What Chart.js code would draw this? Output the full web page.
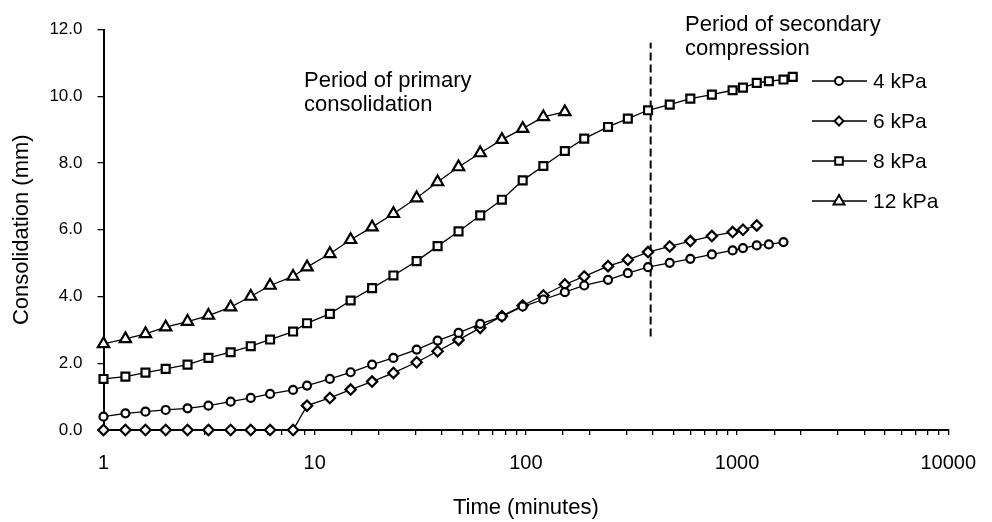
<!DOCTYPE html>
<html lang="en">
<head>
<meta charset="UTF-8">
<title>Consolidation vs time</title>
<style>
  body { margin: 0; background: #fff; }
  #wrap { width: 992px; height: 522px; }
</style>
</head>
<body>
<div id="wrap"><canvas id="myChart" width="992" height="522"></canvas></div>
<script src="https://cdn.jsdelivr.net/npm/chart.js"></script>
<script>
// time readings (minutes), shared by all load steps
var times = [1, 1.27, 1.58, 1.97, 2.5, 3.14, 4.0, 4.98, 6.15, 7.9, 9.2, 11.8, 14.8, 18.7, 23.6, 30.4,
             38.2, 48, 60.8, 77, 96.6, 121, 153, 189, 245, 304, 379, 480, 601, 760, 953, 1067,
             1240, 1415, 1660, 1836];

var kpa4  = [0.4, 0.5, 0.55, 0.6, 0.65, 0.73, 0.85, 0.96, 1.08, 1.2, 1.33, 1.53, 1.73, 1.96, 2.16, 2.41,
             2.68, 2.91, 3.18, 3.4, 3.7, 3.91, 4.13, 4.33, 4.5, 4.7, 4.88, 5.01, 5.13, 5.26, 5.38, 5.45,
             5.53, 5.56, 5.63];
var kpa6  = [0, 0, 0, 0, 0, 0, 0, 0, 0, 0, 0.73, 0.96, 1.21, 1.45, 1.71, 2.03,
             2.36, 2.7, 3.06, 3.41, 3.73, 4.03, 4.36, 4.6, 4.91, 5.1, 5.33, 5.5, 5.66, 5.81, 5.93, 6.0,
             6.13];
var kpa8  = [1.53, 1.6, 1.72, 1.83, 1.96, 2.16, 2.33, 2.51, 2.71, 2.95, 3.2, 3.48, 3.88, 4.25, 4.63, 5.06,
             5.51, 5.95, 6.43, 6.9, 7.48, 7.91, 8.36, 8.73, 9.08, 9.33, 9.58, 9.75, 9.93, 10.05, 10.18, 10.26,
             10.4, 10.45, 10.5, 10.58];
var kpa12 = [2.58, 2.73, 2.88, 3.08, 3.25, 3.43, 3.68, 4.0, 4.33, 4.6, 4.88, 5.28, 5.7, 6.08, 6.48, 6.95,
             7.43, 7.88, 8.3, 8.7, 9.03, 9.38, 9.53];

// end of primary consolidation (dashed line)
var splitTime = 390;
var splitFrom = 2.8;
var splitTo = 11.6;

var xTickLabels = [1, 10, 100, 1000, 10000];
var yTicks = [0, 2, 4, 6, 8, 10, 12];

function pts(vals) {
    return vals.map(function (v, i) { return { x: times[i], y: v }; });
}

function serie(label, vals, style, radius) {
    return {
        label: label,
        data: pts(vals),
        borderColor: '#000',
        borderWidth: 1.3,
        backgroundColor: '#fff',
        pointStyle: style,
        pointRadius: radius,
        pointBorderWidth: 2.2,
        pointBackgroundColor: '#fff',
        pointBorderColor: '#000',
        tension: 0,
        clip: false
    };
}

var FONT = "'Liberation Sans', Arial, sans-serif";

// legend drawn inside the plot like the original
var legendBox = {
    id: 'legendBox',
    afterDatasetsDraw: function (chart) {
        var ctx = chart.ctx;
        ctx.save();
        ctx.fillStyle = '#fff';
        ctx.fillRect(803, 62, 150, 156);
        var sets = chart.data.datasets.filter(function (d) { return d.pointStyle; });
        sets.forEach(function (d, i) {
            var y = 81 + i * 40;
            ctx.strokeStyle = '#000';
            ctx.lineWidth = 1.5;
            ctx.beginPath();
            ctx.moveTo(812, y);
            ctx.lineTo(867, y);
            ctx.stroke();
            ctx.fillStyle = '#fff';
            ctx.lineWidth = 2;
            ctx.beginPath();
            var cx = 839, r = 4.5;
            if (d.pointStyle === 'circle') {
                ctx.arc(cx, y, 4, 0, Math.PI * 2);
            } else if (d.pointStyle === 'rectRot') {
                ctx.moveTo(cx, y - r); ctx.lineTo(cx + r, y); ctx.lineTo(cx, y + r); ctx.lineTo(cx - r, y);
                ctx.closePath();
            } else if (d.pointStyle === 'rect') {
                ctx.rect(cx - 3.8, y - 3.8, 7.6, 7.6);
            } else {
                ctx.moveTo(cx, y - 6); ctx.lineTo(cx + 5.5, y + 3.5); ctx.lineTo(cx - 5.5, y + 3.5);
                ctx.closePath();
            }
            ctx.fill();
            ctx.stroke();
            ctx.fillStyle = '#000';
            ctx.font = '21px ' + FONT;
            ctx.textBaseline = 'middle';
            ctx.fillText(d.label, 873, y + 1);
        });
        ctx.restore();
    }
};

var notes = {
    id: 'notes',
    afterDraw: function (chart) {
        var ctx = chart.ctx;
        ctx.save();
        ctx.fillStyle = '#000';
        ctx.font = '22px ' + FONT;
        ctx.textBaseline = 'alphabetic';
        ctx.fillText('Period of primary', 304, 87);
        ctx.fillText('consolidation', 304, 111);
        ctx.fillText('Period of secondary', 685, 31);
        ctx.fillText('compression', 685, 55);
        ctx.restore();
    }
};

var ctx = document.getElementById('myChart');
var myChart = new Chart(ctx, {
    type: 'line',
    data: {
        datasets: [
            serie('4 kPa', kpa4, 'circle', 4),
            serie('6 kPa', kpa6, 'rectRot', 5.2),
            serie('8 kPa', kpa8, 'rect', 5.6),
            serie('12 kPa', kpa12, 'triangle', 6.5),
            {
                label: 'split',
                data: [{ x: splitTime, y: splitFrom }, { x: splitTime, y: splitTo }],
                borderColor: '#000',
                borderWidth: 2,
                borderDash: [8, 4],
                pointRadius: 0,
                clip: false
            }
        ]
    },
    options: {
        responsive: false,
        animation: false,
        layout: { padding: { top: 29.5, right: 35, left: 0, bottom: 0 } },
        plugins: {
            legend: { display: false },
            tooltip: { enabled: false }
        },
        scales: {
            x: {
                type: 'logarithmic',
                min: 1,
                max: 10000,
                afterFit: function (s) { s.height = 92; },
                border: { display: true, color: '#000', width: 2 },
                grid: { drawOnChartArea: false, drawTicks: true, tickLength: 5, color: '#000', lineWidth: 1.3 },
                ticks: {
                    autoSkip: false,
                    maxRotation: 0,
                    color: '#000',
                    padding: 16,
                    font: { family: FONT, size: 20 },
                    callback: function (v) { return xTickLabels.indexOf(v) >= 0 ? String(v) : ''; }
                },
                title: {
                    display: true,
                    text: 'Time (minutes)',
                    color: '#000',
                    font: { family: FONT, size: 22 },
                    padding: { top: 0, bottom: 1 }
                }
            },
            y: {
                min: 0,
                max: 12,
                afterFit: function (s) { s.width = 103.5; },
                afterBuildTicks: function (s) { s.ticks = yTicks.map(function (v) { return { value: v }; }); },
                border: { display: true, color: '#000', width: 2 },
                grid: { drawOnChartArea: false, drawTicks: true, tickLength: 6, color: '#000', lineWidth: 1.3 },
                ticks: {
                    color: '#000',
                    padding: 15,
                    font: { family: FONT, size: 17 },
                    callback: function (v) { return v.toFixed(1); }
                },
                title: {
                    display: true,
                    text: 'Consolidation (mm)',
                    color: '#000',
                    font: { family: FONT, size: 22 },
                    padding: { top: 9, bottom: 0 }
                }
            }
        }
    },
    plugins: [legendBox, notes]
});
</script>
</body>
</html>
